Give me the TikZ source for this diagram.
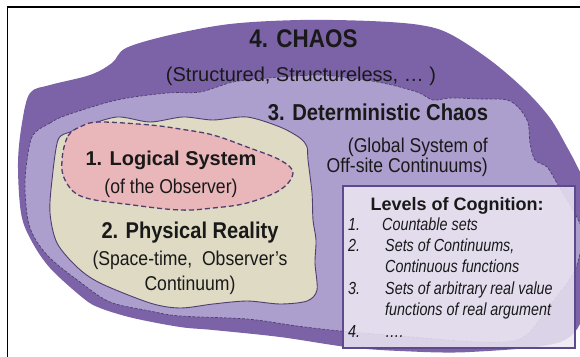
\documentclass[tikz,border=0pt]{standalone}
\usepackage{fontspec}
\setmainfont{Liberation Sans}
\newfontfamily\narrowsf{Liberation Sans}[FakeStretch=0.88]
\newfontfamily\itemsf{Liberation Sans}[FakeStretch=0.82]
\usepackage{tikz}
\usetikzlibrary{positioning}

\definecolor{chaosdark}{RGB}{124,99,168}
\definecolor{detmid}{RGB}{172,158,205}
\definecolor{physbeige}{RGB}{222,218,196}
\definecolor{logicpink}{RGB}{233,182,186}
\definecolor{boxfill}{RGB}{236,231,243}
\definecolor{boxedge}{RGB}{92,74,140}
\definecolor{edgecol}{RGB}{78,62,112}

\begin{document}
\begin{tikzpicture}[x=1pt, y=-1pt,
    txt/.style={inner sep=0pt, text=black!90, anchor=base},
    subtxt/.style={txt, font=\narrowsf\fontsize{20}{24}\selectfont},
    divline/.style={draw=edgecol, line width=0.7pt, dash pattern=on 3pt off 1.5pt}]

  \useasboundingbox (0,0) rectangle (580,356);
  \begin{scope}
    \clip (0,0) rectangle (580,356);

    % 4. chaos
    \fill[chaosdark] plot[smooth cycle, tension=0.55] coordinates {
      (30,93) (50,85) (90,75) (112,63) (126,48) (170,35) (230,24) (300,20)
      (370,21) (420,25) (450,34) (490,60) (525,90) (550,118) (567,147)
      (578,168) (592,200) (596,260) (586,310) (560,342) (470,352) (400,351)
      (347,347) (280,337) (213,330) (180,327) (133,318) (100,308) (83,298)
      (50,268) (31,240) (21,213) (18,163) (22,123)};

    % 3. deterministic chaos
    \filldraw[fill=detmid, divline] plot[smooth cycle, tension=0.55] coordinates {
      (33,135) (50,123) (67,115) (117,100) (167,93) (200,92) (233,82)
      (267,78) (317,75) (350,78) (383,83) (417,92) (433,100) (450,98)
      (480,99) (510,101) (527,120) (530,143) (535,160) (547,167) (557,183)
      (573,210) (582,233) (575,270) (548,308) (522,338) (480,342)
      (400,336) (340,331) (297,326) (247,319) (180,316) (150,311)
      (110,302) (80,282) (48,256) (30,228) (25,190) (27,160)};

    % 2. physical reality
    \filldraw[fill=physbeige, draw=edgecol, line width=0.9pt] plot[smooth cycle, tension=0.5] coordinates {
      (58,140) (70,132) (83,127) (117,117) (150,122) (183,117) (213,120)
      (247,117) (280,127) (300,138) (307,147) (308,160) (312,193) (313,220)
      (316,240) (315,263) (317,290) (307,301) (280,304) (247,301) (213,304)
      (180,308) (150,303) (100,283) (77,267) (57,243) (50,213) (52,180)};

    % 1. logical system
    \filldraw[fill=logicpink, draw=edgecol, line width=1.3pt, dash pattern=on 5pt off 3pt]
      plot[smooth cycle, tension=0.6] coordinates {
      (62,160) (68,136) (82,126) (100,122) (150,125) (180,129) (213,135)
      (247,147) (280,160) (293,173) (280,190) (247,203) (213,208) (180,210)
      (133,205) (83,197) (65,180)};

    % frame
    \draw[line width=1.3pt] (7.5,360) -- (7.5,7) -- (585,7);
  \end{scope}

  \node[txt, font=\narrowsf\bfseries\fontsize{25.5}{28}\selectfont] (chaos) at (303.5,47) {4. CHAOS};
  \node[txt, font=\fontsize{20}{24}\selectfont] (chaossub) at (301,81) {(Structured, Structureless, … )};

  \node[txt, font=\narrowsf\bfseries\fontsize{23}{26}\selectfont] (determ) at (378,120) {3. Deterministic Chaos};
  \node[subtxt, anchor=base east] (determsub) at (488,152) {(Global System of};
  \node[subtxt, anchor=base east] (determsubb) at (488,172) {Off-site Continuums)};

  \node[txt, font=\bfseries\fontsize{20}{24}\selectfont] (logic) at (171,165) {1. Logical System};
  \node[subtxt] (logicsub) at (171,193) {(of the Observer)};

  \node[txt, font=\narrowsf\bfseries\fontsize{22.8}{26}\selectfont] (phys) at (190,238) {2. Physical Reality};
  \node[subtxt] (physsub) at (190,265) {(Space-time,\ \ Observer’s};
  \node[subtxt] (physsubb) at (190,290) {Continuum)};

  % levels of cognition
  \node[draw=boxedge, line width=1.6pt, fill=boxfill, fill opacity=0.85, inner sep=0pt,
    minimum width=232pt, minimum height=162pt, anchor=north west] (levelsbox) at (342,185) {};
  \node[txt, font=\bfseries\fontsize{18}{22}\selectfont] (levels) at (457,210) {Levels of Cognition:};
  \node[txt, font=\itemsf\itshape\fontsize{17.5}{21.4}\selectfont, anchor=north west] (levelitems) at (348,215) {%
    \begin{tabular}{@{}p{37pt}@{}l@{}}
      1. & \hspace*{-3pt}Countable sets\\
      2. & Sets of Continuums,\\
         & Continuous functions\\
      3. & Sets of arbitrary real value\\
         & functions of real argument\\
      4. & ….
    \end{tabular}};

\end{tikzpicture}
\end{document}
